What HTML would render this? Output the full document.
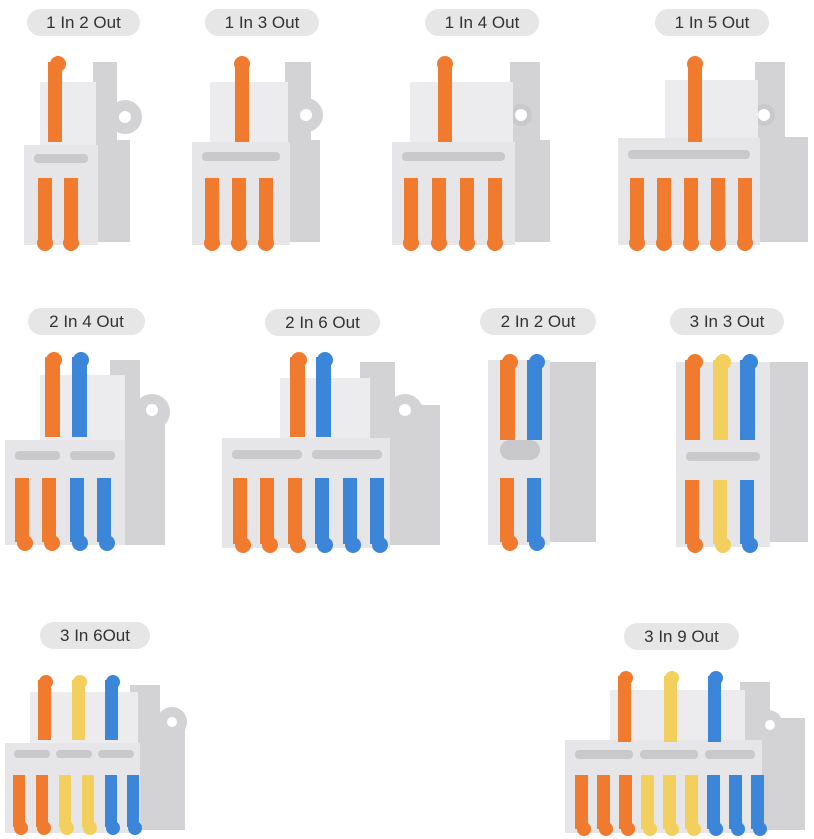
<!DOCTYPE html>
<html><head><meta charset="utf-8"><style>
body{margin:0;background:#fff;width:814px;height:839px;overflow:hidden;font-family:"Liberation Sans",sans-serif}
.p{position:absolute;height:27px;line-height:27px;background:#e6e6e6;border-radius:14px;color:#333;font-size:17px;text-align:center}
svg{position:absolute;left:0;top:0}
</style></head><body>
<svg width="814" height="839" viewBox="0 0 814 839">
<defs>
<style>
.f{fill:#e6e6e8}.s{fill:#d3d3d6}.u{fill:#ececee}.sl{fill:#c9c9cc}
.o{fill:#f07a2e}.b{fill:#3b86d8}.y{fill:#f3cf5d}
</style>
</defs>
<!-- 1 -->
<g>
<rect class="s" x="93" y="62" width="24" height="90"/><circle class="s" cx="125" cy="117" r="17"/><circle fill="#fff" cx="125" cy="117" r="6"/>
<rect class="s" x="96" y="140" width="34" height="102"/>
<rect class="u" x="40" y="82" width="56" height="68"/>
<rect class="f" x="24" y="145" width="74" height="100"/>
<rect class="sl" x="34" y="154" width="54" height="9" rx="4"/>
<rect class="o" x="48" y="62" width="14" height="80"/><circle class="o" cx="58" cy="64" r="8"/>
<rect class="o" x="38" y="178" width="14" height="64"/><circle class="o" cx="45" cy="243" r="8"/>
<rect class="o" x="64" y="178" width="14" height="64"/><circle class="o" cx="71" cy="243" r="8"/>
</g>
<!-- 2 -->
<g>
<rect class="s" x="285" y="62" width="26" height="90"/><circle class="s" cx="306" cy="115" r="17"/><circle fill="#fff" cx="306" cy="115" r="6"/>
<rect class="s" x="288" y="140" width="32" height="102"/>
<rect class="u" x="210" y="82" width="78" height="65"/>
<rect class="f" x="192" y="142" width="98" height="103"/>
<rect class="sl" x="202" y="152" width="78" height="9" rx="4"/>
<rect class="o" x="235" y="62" width="14" height="80"/><circle class="o" cx="242" cy="64" r="8"/>
<rect class="o" x="205" y="178" width="14" height="64"/><circle class="o" cx="212" cy="243" r="8"/>
<rect class="o" x="232" y="178" width="14" height="64"/><circle class="o" cx="239" cy="243" r="8"/>
<rect class="o" x="259" y="178" width="14" height="64"/><circle class="o" cx="266" cy="243" r="8"/>
</g>
<!-- 3 -->
<g>
<rect class="s" x="510" y="62" width="30" height="90"/>
<rect class="s" x="513" y="140" width="37" height="102"/>
<circle class="sl" cx="521" cy="115" r="11"/><circle fill="#fff" cx="521" cy="115" r="6"/>
<rect class="u" x="410" y="82" width="103" height="65"/>
<rect class="f" x="392" y="142" width="123" height="103"/>
<rect class="sl" x="402" y="152" width="103" height="9" rx="4"/>
<rect class="o" x="438" y="62" width="14" height="80"/><circle class="o" cx="445" cy="64" r="8"/>
<rect class="o" x="404" y="178" width="14" height="64"/><circle class="o" cx="411" cy="243" r="8"/>
<rect class="o" x="432" y="178" width="14" height="64"/><circle class="o" cx="439" cy="243" r="8"/>
<rect class="o" x="460" y="178" width="14" height="64"/><circle class="o" cx="467" cy="243" r="8"/>
<rect class="o" x="488" y="178" width="14" height="64"/><circle class="o" cx="495" cy="243" r="8"/>
</g>
<!-- 4 -->
<g>
<rect class="s" x="755" y="62" width="30" height="90"/>
<rect class="s" x="758" y="137" width="50" height="105"/>
<circle class="sl" cx="764" cy="115" r="11"/><circle fill="#fff" cx="764" cy="115" r="6"/>
<rect class="u" x="665" y="80" width="93" height="62"/>
<rect class="f" x="618" y="138" width="142" height="107"/>
<rect class="sl" x="628" y="150" width="122" height="9" rx="4"/>
<rect class="o" x="688" y="62" width="14" height="80"/><circle class="o" cx="695" cy="64" r="8"/>
<rect class="o" x="630" y="178" width="14" height="64"/><circle class="o" cx="637" cy="243" r="8"/>
<rect class="o" x="657" y="178" width="14" height="64"/><circle class="o" cx="664" cy="243" r="8"/>
<rect class="o" x="684" y="178" width="14" height="64"/><circle class="o" cx="691" cy="243" r="8"/>
<rect class="o" x="711" y="178" width="14" height="64"/><circle class="o" cx="718" cy="243" r="8"/>
<rect class="o" x="738" y="178" width="14" height="64"/><circle class="o" cx="745" cy="243" r="8"/>
</g>
<!-- 5: 2 in 4 -->
<g>
<rect class="s" x="110" y="360" width="30" height="90"/><circle class="s" cx="152" cy="412" r="18"/>
<rect class="s" x="123" y="400" width="42" height="145"/>
<circle fill="#fff" cx="152" cy="410" r="6"/>
<rect class="u" x="40" y="375" width="85" height="70"/>
<rect class="f" x="5" y="440" width="120" height="105"/>
<rect class="sl" x="15" y="451" width="45" height="9" rx="4"/><rect class="sl" x="70" y="451" width="45" height="9" rx="4"/>
<rect class="o" x="45" y="357" width="15" height="80"/><circle class="o" cx="54" cy="360" r="8"/>
<rect class="b" x="72" y="357" width="15" height="80"/><circle class="b" cx="81" cy="360" r="8"/>
<rect class="o" x="15" y="478" width="14" height="64"/><circle class="o" cx="25" cy="543" r="8"/>
<rect class="o" x="42" y="478" width="14" height="64"/><circle class="o" cx="52" cy="543" r="8"/>
<rect class="b" x="70" y="478" width="14" height="64"/><circle class="b" cx="80" cy="543" r="8"/>
<rect class="b" x="97" y="478" width="14" height="64"/><circle class="b" cx="107" cy="543" r="8"/>
</g>
<!-- 6: 2 in 6 -->
<g>
<rect class="s" x="360" y="362" width="35" height="90"/><circle class="s" cx="405" cy="412" r="18"/>
<rect class="s" x="388" y="405" width="52" height="140"/>
<circle fill="#fff" cx="405" cy="410" r="6"/>
<rect class="u" x="280" y="378" width="90" height="65"/>
<rect class="f" x="222" y="438" width="168" height="110"/>
<rect class="sl" x="232" y="450" width="70" height="9" rx="4"/><rect class="sl" x="312" y="450" width="70" height="9" rx="4"/>
<rect class="o" x="290" y="357" width="15" height="80"/><circle class="o" cx="299" cy="360" r="8"/>
<rect class="b" x="316" y="357" width="15" height="80"/><circle class="b" cx="325" cy="360" r="8"/>
<rect class="o" x="233" y="478" width="14" height="66"/><circle class="o" cx="243" cy="545" r="8"/>
<rect class="o" x="260" y="478" width="14" height="66"/><circle class="o" cx="270" cy="545" r="8"/>
<rect class="o" x="288" y="478" width="14" height="66"/><circle class="o" cx="298" cy="545" r="8"/>
<rect class="b" x="315" y="478" width="14" height="66"/><circle class="b" cx="325" cy="545" r="8"/>
<rect class="b" x="343" y="478" width="14" height="66"/><circle class="b" cx="353" cy="545" r="8"/>
<rect class="b" x="370" y="478" width="14" height="66"/><circle class="b" cx="380" cy="545" r="8"/>
</g>
<!-- 7: 2 in 2 -->
<g>
<rect class="s" x="548" y="362" width="48" height="180"/>
<rect class="f" x="488" y="360" width="62" height="185"/>
<rect class="sl" x="500" y="440" width="40" height="20" rx="10"/>
<rect class="o" x="500" y="360" width="15" height="80"/><circle class="o" cx="510" cy="362" r="8"/>
<rect class="b" x="527" y="360" width="15" height="80"/><circle class="b" cx="537" cy="362" r="8"/>
<rect class="o" x="500" y="478" width="14" height="64"/><circle class="o" cx="510" cy="543" r="8"/>
<rect class="b" x="527" y="478" width="14" height="64"/><circle class="b" cx="537" cy="543" r="8"/>
</g>
<!-- 8: 3 in 3 -->
<g>
<rect class="s" x="768" y="362" width="40" height="180"/>
<rect class="f" x="676" y="362" width="94" height="185"/>
<rect class="sl" x="686" y="452" width="74" height="9" rx="4"/>
<rect class="o" x="685" y="360" width="15" height="80"/><circle class="o" cx="695" cy="362" r="8"/>
<rect class="y" x="713" y="360" width="15" height="80"/><circle class="y" cx="723" cy="362" r="8"/>
<rect class="b" x="740" y="360" width="15" height="80"/><circle class="b" cx="750" cy="362" r="8"/>
<rect class="o" x="685" y="480" width="14" height="64"/><circle class="o" cx="695" cy="545" r="8"/>
<rect class="y" x="713" y="480" width="14" height="64"/><circle class="y" cx="723" cy="545" r="8"/>
<rect class="b" x="740" y="480" width="14" height="64"/><circle class="b" cx="750" cy="545" r="8"/>
</g>
<!-- 9: 3 in 6 -->
<g>
<rect class="s" x="130" y="685" width="30" height="65"/><circle class="s" cx="172" cy="722" r="15"/>
<rect class="s" x="138" y="715" width="47" height="115"/>
<circle fill="#fff" cx="172" cy="722" r="5"/>
<rect class="u" x="30" y="692" width="108" height="55"/>
<rect class="f" x="5" y="743" width="135" height="90"/>
<rect class="sl" x="14" y="750" width="36" height="8" rx="4"/><rect class="sl" x="56" y="750" width="36" height="8" rx="4"/><rect class="sl" x="98" y="750" width="36" height="8" rx="4"/>
<rect class="o" x="38" y="680" width="13" height="60"/><circle class="o" cx="46" cy="682" r="7"/>
<rect class="y" x="72" y="680" width="13" height="60"/><circle class="y" cx="80" cy="682" r="7"/>
<rect class="b" x="105" y="680" width="13" height="60"/><circle class="b" cx="113" cy="682" r="7"/>
<rect class="o" x="13" y="775" width="12" height="52"/><circle class="o" cx="21" cy="828" r="7"/>
<rect class="o" x="36" y="775" width="12" height="52"/><circle class="o" cx="44" cy="828" r="7"/>
<rect class="y" x="59" y="775" width="12" height="52"/><circle class="y" cx="67" cy="828" r="7"/>
<rect class="y" x="82" y="775" width="12" height="52"/><circle class="y" cx="90" cy="828" r="7"/>
<rect class="b" x="105" y="775" width="12" height="52"/><circle class="b" cx="113" cy="828" r="7"/>
<rect class="b" x="127" y="775" width="12" height="52"/><circle class="b" cx="135" cy="828" r="7"/>
</g>
<!-- 10: 3 in 9 -->
<g>
<rect class="s" x="740" y="682" width="30" height="65"/><circle class="s" cx="768" cy="725" r="15"/>
<rect class="s" x="760" y="718" width="45" height="112"/>
<circle fill="#fff" cx="770" cy="725" r="5"/>
<rect class="u" x="610" y="690" width="135" height="55"/>
<rect class="f" x="565" y="740" width="197" height="93"/>
<rect class="sl" x="575" y="750" width="58" height="9" rx="4"/><rect class="sl" x="640" y="750" width="58" height="9" rx="4"/><rect class="sl" x="705" y="750" width="50" height="9" rx="4"/>
<rect class="o" x="618" y="676" width="13" height="66"/><circle class="o" cx="626" cy="678" r="7"/>
<rect class="y" x="664" y="676" width="13" height="66"/><circle class="y" cx="672" cy="678" r="7"/>
<rect class="b" x="708" y="676" width="13" height="66"/><circle class="b" cx="716" cy="678" r="7"/>
<rect class="o" x="575" y="775" width="13" height="54"/><circle class="o" cx="584" cy="829" r="7"/>
<rect class="o" x="597" y="775" width="13" height="54"/><circle class="o" cx="606" cy="829" r="7"/>
<rect class="o" x="619" y="775" width="13" height="54"/><circle class="o" cx="628" cy="829" r="7"/>
<rect class="y" x="641" y="775" width="13" height="54"/><circle class="y" cx="650" cy="829" r="7"/>
<rect class="y" x="663" y="775" width="13" height="54"/><circle class="y" cx="672" cy="829" r="7"/>
<rect class="y" x="685" y="775" width="13" height="54"/><circle class="y" cx="694" cy="829" r="7"/>
<rect class="b" x="707" y="775" width="13" height="54"/><circle class="b" cx="716" cy="829" r="7"/>
<rect class="b" x="729" y="775" width="13" height="54"/><circle class="b" cx="738" cy="829" r="7"/>
<rect class="b" x="751" y="775" width="13" height="54"/><circle class="b" cx="760" cy="829" r="7"/>
</g>
</svg>
<div class="p" style="left:27px;top:9px;width:113px">1 In 2 Out</div>
<div class="p" style="left:205px;top:9px;width:114px">1 In 3 Out</div>
<div class="p" style="left:425px;top:9px;width:114px">1 In 4 Out</div>
<div class="p" style="left:655px;top:9px;width:114px">1 In 5 Out</div>
<div class="p" style="left:28px;top:308px;width:117px">2 In 4 Out</div>
<div class="p" style="left:265px;top:309px;width:115px">2 In 6 Out</div>
<div class="p" style="left:480px;top:308px;width:116px">2 In 2 Out</div>
<div class="p" style="left:670px;top:308px;width:114px">3 In 3 Out</div>
<div class="p" style="left:40px;top:622px;width:110px">3 In 6Out</div>
<div class="p" style="left:624px;top:623px;width:115px">3 In 9 Out</div>
</body></html>
